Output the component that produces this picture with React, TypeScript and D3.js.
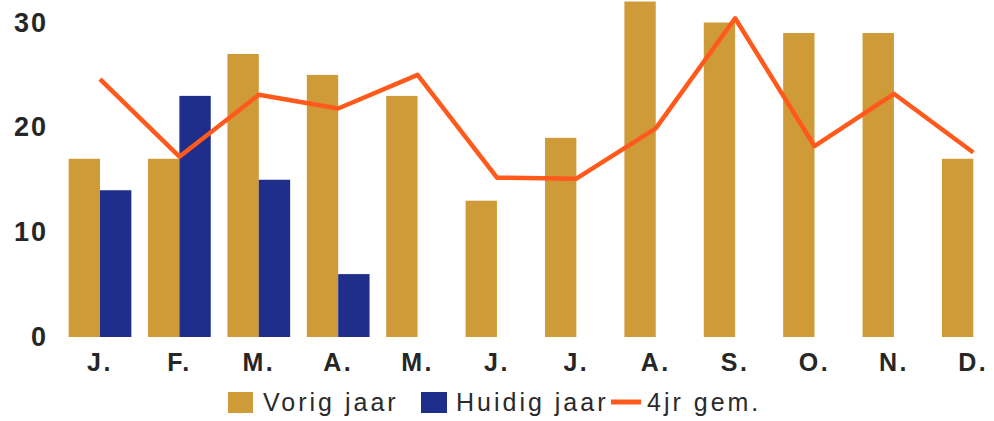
import React from "react";
import { scaleBand, scaleLinear, line as Line } from "d3";

const months = ["J.", "F.", "M.", "A.", "M.", "J.", "J.", "A.", "S.", "O.", "N.", "D."];
const vorigJaar = [17, 17, 27, 25, 23, 13, 19, 32, 30, 29, 29, 17];
const huidigJaar: (number | null)[] = [14, 23, 15, 6, null, null, null, null, null, null, null, null];
const gem4jr = [24.6, 17.2, 23.1, 21.8, 25, 15.2, 15.1, 19.9, 30.4, 18.2, 23.2, 17.6];
const yTicks = [0, 10, 20, 30];

const GOLD = "#CF9A38";
const BLUE = "#1E2E8A";
const ORANGE = "#FF5A1C";
const FONT = "'Liberation Sans', Arial, sans-serif";

const W = 994;
const H = 421;

const App: React.FC = () => {
  const idx = months.map((_, i) => String(i));
  const x = scaleBand<string>()
    .domain(idx)
    .range([60.3, 1013])
    .paddingInner(0.21)
    .paddingOuter(0.105);
  const sub = scaleBand<string>()
    .domain(["vorig", "huidig"])
    .range([0, x.bandwidth()]);
  const y = scaleLinear().domain([0, 30]).range([337, 22.5]);

  const center = (i: number) => (x(String(i)) ?? 0) + x.bandwidth() / 2;
  const path = Line<number>()
    .x((_, i) => center(i))
    .y((d) => y(d))(gem4jr);

  return (
    <svg
      width={W}
      height={H}
      style={{ position: "absolute", left: 0, top: 0, background: "#fff" }}
      fontFamily={FONT}
    >
      {yTicks.map((t) => (
        <text
          key={t}
          x={48}
          y={y(t)}
          textAnchor="end"
          dominantBaseline="central"
          fontSize={27}
          fontWeight="bold"
          letterSpacing={2}
          fill="#262626"
        >
          {t}
        </text>
      ))}

      {vorigJaar.map((v, i) => (
        <rect
          key={`v${i}`}
          x={(x(String(i)) ?? 0) + (sub("vorig") ?? 0)}
          y={y(v)}
          width={sub.bandwidth()}
          height={y(0) - y(v)}
          fill={GOLD}
        />
      ))}
      {huidigJaar.map((v, i) =>
        v == null ? null : (
          <rect
            key={`h${i}`}
            x={(x(String(i)) ?? 0) + (sub("huidig") ?? 0)}
            y={y(v)}
            width={sub.bandwidth()}
            height={y(0) - y(v)}
            fill={BLUE}
          />
        )
      )}

      <path d={path ?? ""} fill="none" stroke={ORANGE} strokeWidth={4.5} strokeLinejoin="round" />

      {months.map((m, i) => (
        <text
          key={`m${i}`}
          x={center(i)}
          y={371}
          textAnchor="middle"
          fontSize={25}
          fontWeight="bold"
          letterSpacing={2.5}
          fill="#262626"
        >
          {m}
        </text>
      ))}

      <g fontSize={25} letterSpacing={3} fill="#2a2a2a">
        <rect x={228} y={392} width={25} height={21} fill={GOLD} />
        <text x={263} y={411}>Vorig jaar</text>
        <rect x={421} y={392} width={26} height={21} fill={BLUE} />
        <text x={456} y={411}>Huidig jaar</text>
        <line x1={611} x2={641} y1={402} y2={402} stroke={ORANGE} strokeWidth={5} />
        <text x={647} y={411}>4jr gem.</text>
      </g>
    </svg>
  );
};

export default App;
